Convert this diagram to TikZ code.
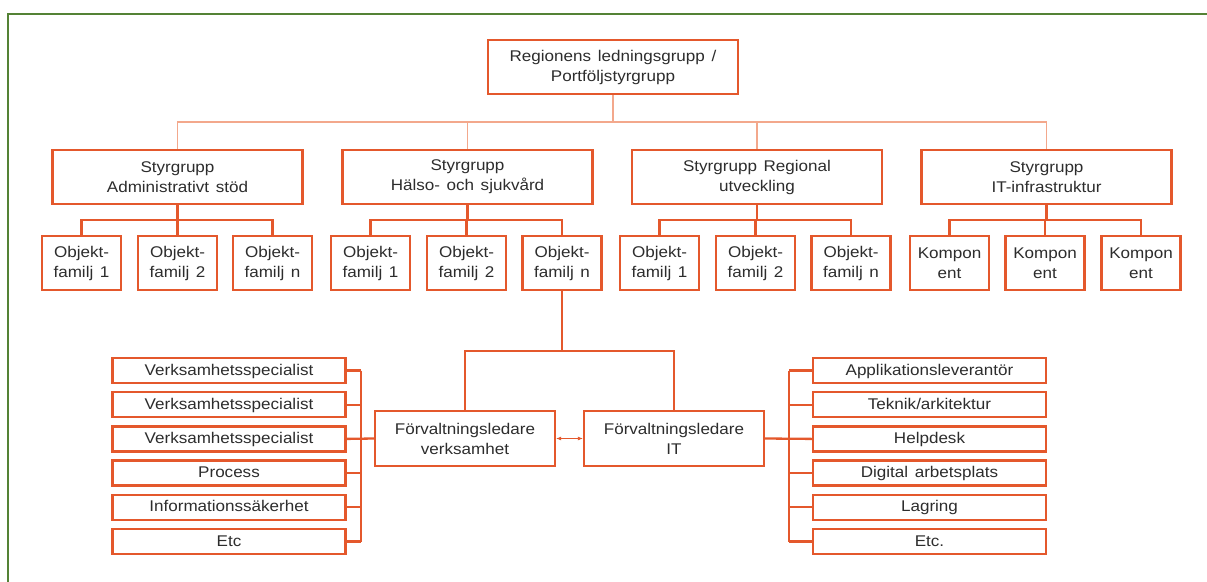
\documentclass[tikz,border=0pt]{standalone}
\usepackage{fontspec}
\setmainfont{Liberation Sans}[FakeStretch=1.1, WordSpace=1.4]
\usetikzlibrary{arrows.meta}
\definecolor{org}{RGB}{228,88,44}
\definecolor{orgl}{RGB}{243,168,140}
\definecolor{frm}{RGB}{84,130,53}
\definecolor{txt}{RGB}{45,45,45}
\tikzset{
  box/.style={draw=org, line width=2.3pt, inner sep=0pt, align=center,
    font=\fontsize{15.5}{20}\selectfont, text=txt},
  bigbox/.style={box, minimum width=250, minimum height=54},
  objbox/.style={box, minimum width=79, minimum height=54},
  flbox/.style={box, minimum width=180, minimum height=55},
  listbox/.style={box, minimum width=233, minimum height=25, text height=11.5, text depth=2.5},
  conn/.style={draw=org, line width=2.3pt},
  thinconn/.style={draw=orgl, line width=1.2pt},
}
\begin{document}
\begin{tikzpicture}[x=1pt,y=-1pt]
\useasboundingbox (0,0) rectangle (1207,581);
\fill[white] (0,0) rectangle (1207,581);
\draw[frm, line width=2pt] (8,600) -- (8,14) -- (1220,14);

\coordinate (bus0) at (0,122);
\coordinate (bus1) at (0,220);
\coordinate (mid) at (0,351);
\coordinate (lb) at (361,0);
\coordinate (rb) at (789,0);

\node[bigbox] (top) at (613,67) {Regionens ledningsgrupp /\\Portföljstyrgrupp};

\node[bigbox] (s1) at (177.5,177) {Styrgrupp\\Administrativt stöd};
\node[bigbox] (s2) at (467.5,177) {Styrgrupp\\Hälso- och sjukvård};
\node[bigbox] (s3) at (757,177) {Styrgrupp Regional\\utveckling};
\node[bigbox] (s4) at (1046.5,177) {Styrgrupp\\IT-infrastruktur};

\node[objbox] (o11) at (81.5,263) {Objekt-\\familj 1};
\node[objbox] (o12) at (177.5,263) {Objekt-\\familj 2};
\node[objbox] (o13) at (272.5,263) {Objekt-\\familj n};
\node[objbox] (o21) at (370.5,263) {Objekt-\\familj 1};
\node[objbox] (o22) at (466.5,263) {Objekt-\\familj 2};
\node[objbox] (o23) at (562,263) {Objekt-\\familj n};
\node[objbox] (o31) at (659.5,263) {Objekt-\\familj 1};
\node[objbox] (o32) at (755.5,263) {Objekt-\\familj 2};
\node[objbox] (o33) at (851,263) {Objekt-\\familj n};
\node[objbox] (o41) at (949.5,263) {Kompon\\ent};
\node[objbox] (o42) at (1045,263) {Kompon\\ent};
\node[objbox] (o43) at (1141,263) {Kompon\\ent};

\node[flbox] (fv) at (465,438.5) {Förvaltningsledare\\verksamhet};
\node[flbox] (fit) at (674,438.5) {Förvaltningsledare\\IT};

\foreach \n/\t [count=\i from 0] in {l1/Verksamhetsspecialist,l2/Verksamhetsspecialist,l3/Verksamhetsspecialist,l4/Process,l5/Informationssäkerhet,l6/Etc}
  \node[listbox] (\n) at (229,370.5+34.2*\i) {\t};
\foreach \n/\t [count=\i from 0] in {r1/Applikationsleverantör,r2/Teknik\slash arkitektur,r3/Helpdesk,r4/Digital arbetsplats,r5/Lagring,r6/Etc.}
  \node[listbox] (\n) at (929.5,370.5+34.2*\i) {\t};

% top level connectors
\draw[thinconn] (top.south) -- (top.south |- bus0);
\draw[thinconn] (s1.north) -- (s1.north |- bus0) -- (s4.north |- bus0) -- (s4.north);
\draw[thinconn] (s2.north) -- (s2.north |- bus0);
\draw[thinconn] (s3.north) -- (s3.north |- bus0);

% second level
\foreach \s/\a/\b/\c in {s1/o11/o12/o13,s2/o21/o22/o23,s3/o31/o32/o33,s4/o41/o42/o43}{
  \draw[conn] (\s.south) -- (\s.south |- bus1);
  \draw[conn] (\a.north) -- (\a.north |- bus1) -- (\c.north |- bus1) -- (\c.north);
  \draw[conn] (\b.north) -- (\b.north |- bus1);
}

% to Förvaltningsledare
\draw[conn] (o23.south) -- (o23.south |- mid);
\draw[conn] (fv.north) -- (fv.north |- mid) -- (fit.north |- mid) -- (fit.north);
\draw[org, line width=0.8pt, {Latex[length=5pt,width=4pt]}-{Latex[length=5pt,width=4pt]}] (fv.east) -- (fit.west);

% left bus
\foreach \n in {l1,l2,l4,l5,l6}
  \draw[conn] (\n.east) -- (\n.east -| lb);
\draw[conn] (l1.east -| lb) -- (l6.east -| lb);
\draw[conn] (l3.east) -- (fv.west);

% right bus
\foreach \n in {r1,r2,r4,r5,r6}
  \draw[conn] (\n.west) -- (\n.west -| rb);
\draw[conn] (r1.west -| rb) -- (r6.west -| rb);
\draw[conn] (fit.east) -- (r3.west);
\end{tikzpicture}
\end{document}
